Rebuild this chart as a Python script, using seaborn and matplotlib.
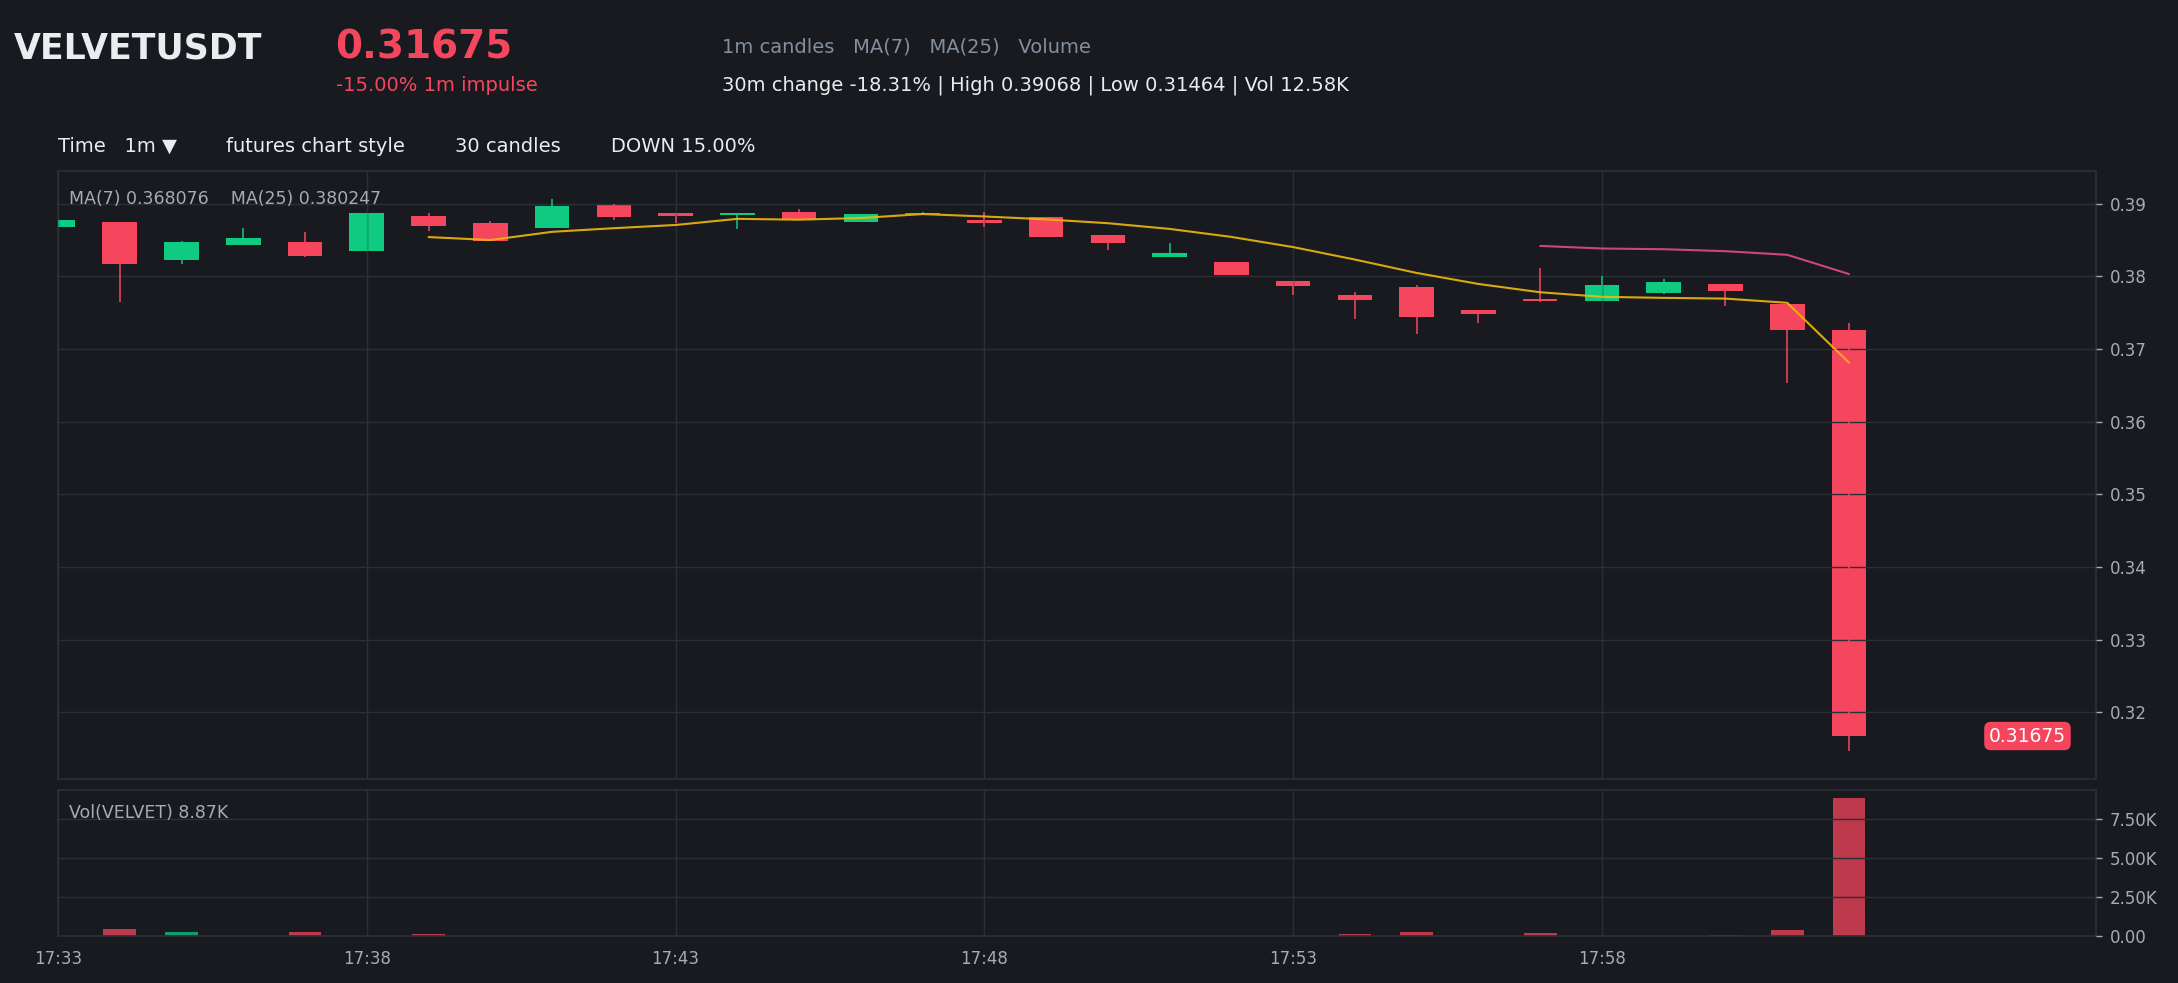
import numpy as np
import pandas as pd
import matplotlib
matplotlib.use('Agg')
import matplotlib.pyplot as plt
import seaborn as sns
from matplotlib.transforms import blended_transform_factory
from matplotlib.ticker import FuncFormatter

# 1m candles, 17:33 .. 18:02
opens = [0.3868, 0.3875, 0.3822, 0.3843, 0.3847, 0.3835, 0.3883, 0.3873, 0.3867, 0.3898,
         0.3887, 0.3884, 0.3889, 0.3875, 0.38855, 0.3878, 0.3881, 0.3857, 0.3827, 0.3819,
         0.3794, 0.3774, 0.3785, 0.3753, 0.3769, 0.3766, 0.3777, 0.3789, 0.3762, 0.37265]
highs = [0.3878, 0.3875, 0.3848, 0.3866, 0.3861, 0.3887, 0.3887, 0.3876, 0.39068, 0.3900,
         0.3887, 0.3887, 0.3892, 0.3885, 0.3888, 0.3888, 0.3881, 0.3857, 0.3846, 0.3819,
         0.3794, 0.3779, 0.3788, 0.3753, 0.3812, 0.3801, 0.3796, 0.3789, 0.3762, 0.3736]
lows = [0.3868, 0.3765, 0.3817, 0.3843, 0.3827, 0.3835, 0.3862, 0.3848, 0.3866, 0.3877,
        0.3873, 0.3865, 0.3879, 0.3875, 0.3885, 0.3868, 0.3854, 0.3836, 0.3827, 0.3802,
        0.3774, 0.3741, 0.3720, 0.3736, 0.3764, 0.3766, 0.3776, 0.3759, 0.3653, 0.31464]
closes = [0.38775, 0.3817, 0.3847, 0.3852, 0.3828, 0.3887, 0.3869, 0.3849, 0.3896, 0.3882,
          0.3883, 0.3887, 0.3879, 0.3885, 0.3887, 0.3873, 0.3854, 0.3846, 0.3832, 0.3802,
          0.3787, 0.3767, 0.3744, 0.3748, 0.3766, 0.3788, 0.3792, 0.3780, 0.37265, 0.31675]
volumes = [20, 450, 270, 20, 270, 30, 130, 10, 10, 10,
           10, 20, 10, 20, 10, 10, 10, 10, 20, 10,
           10, 140, 270, 10, 190, 30, 20, 80, 400, 8870]

tick_pos = [0, 5, 10, 15, 20, 25]
tick_labels = ['17:33', '17:38', '17:43', '17:48', '17:53', '17:58']

BG = '#181a20'
UP = '#0ecb81'
DOWN = '#f6465d'
GRID = '#2b2f36'
TXT = '#eaecef'
MUTED = '#a7abb2'
DIM = '#848e9c'

sns.set_theme(style='dark', rc={'axes.facecolor': BG, 'figure.facecolor': BG})
plt.rcParams['font.family'] = ['DejaVu Sans']

df = pd.DataFrame({'t': np.arange(len(closes)), 'open': opens, 'high': highs,
                   'low': lows, 'close': closes, 'volume': volumes})
df['dir'] = np.where(df['close'] >= df['open'], 'up', 'down')
df['ma7'] = df['close'].rolling(7).mean()
df['ma25'] = df['close'].rolling(25).mean()
cols = df['dir'].map({'up': UP, 'down': DOWN})

fig = plt.figure(figsize=(21.78, 9.83), dpi=100)
ax = fig.add_axes([0.02663, 0.20753, 0.93572, 0.61851])
axv = fig.add_axes([0.02663, 0.04781, 0.93572, 0.14853])

for a in (ax, axv):
    a.set_facecolor(BG)
    a.set_axisbelow(False)
    a.grid(True, color=GRID, lw=1)
    for s in a.spines.values():
        s.set_color(GRID)
        s.set_linewidth(1.2)
    a.yaxis.tick_right()
    a.tick_params(colors=MUTED, labelsize=12, length=4, width=1, pad=6)

# candles
body_bot = np.minimum(df['open'], df['close'])
body_h = np.maximum((df['close'] - df['open']).abs(), 0.00004)
ax.bar(df['t'], body_h, bottom=body_bot, width=0.56, color=cols, linewidth=0, zorder=1)
ax.vlines(df['t'], df['low'], df['high'], colors=cols, lw=1.1, zorder=3)

sns.lineplot(data=df.dropna(subset=['ma7']), x='t', y='ma7', color='#f0b90b',
             lw=1.5, alpha=0.9, ax=ax, zorder=4)
sns.lineplot(data=df.dropna(subset=['ma25']), x='t', y='ma25', color='#e2498a',
             lw=1.5, alpha=0.9, ax=ax, zorder=4)

rng = df['high'].max() - df['low'].min()
ax.set_ylim(df['low'].min() - 0.05 * rng, df['high'].max() + 0.05 * rng)
ax.set_xlim(0, 33)
ax.set_yticks(np.arange(0.32, 0.3905, 0.01))
ax.yaxis.set_major_formatter(FuncFormatter(lambda v, p: f'{v:.2f}'))
ax.set_xticks(tick_pos)
ax.tick_params(axis='x', labelbottom=False)
ax.set_xlabel('')
ax.set_ylabel('')

ax.text(0.0055, 0.9458, 'MA(7) 0.368076    MA(25) 0.380247', transform=ax.transAxes,
        color=MUTED, fontsize=12.5, ha='left', va='baseline')

tr = blended_transform_factory(ax.transAxes, ax.transData)
ax.text(0.9853, df['close'].iloc[-1], f"{df['close'].iloc[-1]:.5f}", transform=tr,
        ha='right', va='center', color='white', fontsize=13.5, zorder=6,
        bbox=dict(boxstyle='round,pad=0.25,rounding_size=0.35', fc=DOWN, ec='none'))

# volume
sns.barplot(data=df, x='t', y='volume', hue='dir', palette={'up': UP, 'down': DOWN},
            native_scale=True, width=0.53, dodge=False, saturation=1, alpha=0.75,
            errorbar=None, legend=False, linewidth=0, edgecolor='none', ax=axv)
axv.set_xlim(0, 33)
axv.set_ylim(0, df['volume'].max() * 1.055)
axv.set_yticks([0, 2500, 5000, 7500])
axv.yaxis.set_major_formatter(FuncFormatter(lambda v, p: '0.00' if v == 0 else f'{v / 1000:.2f}K'))
axv.set_xticks(tick_pos)
axv.set_xticklabels(tick_labels)
axv.set_xlabel('')
axv.set_ylabel('')
axv.text(0.0055, 0.808, 'Vol(VELVET) 8.87K', transform=axv.transAxes,
         color=MUTED, fontsize=12.5, ha='left', va='baseline')

# header
fig.text(14 / 2178, 1 - 58.5 / 983, 'VELVETUSDT', color=TXT, fontsize=25,
         fontweight='bold', va='baseline')
fig.text(335 / 2178, 1 - 58.5 / 983, '0.31675', color=DOWN, fontsize=28,
         fontweight='bold', va='baseline')
fig.text(336 / 2178, 1 - 91 / 983, '-15.00% 1m impulse', color=DOWN, fontsize=14,
         va='baseline')
fig.text(722 / 2178, 1 - 52.7 / 983, '1m candles   MA(7)   MA(25)   Volume', color=DIM,
         fontsize=14, va='baseline')
fig.text(722 / 2178, 1 - 90.7 / 983,
         '30m change -18.31% | High 0.39068 | Low 0.31464 | Vol 12.58K',
         color=TXT, fontsize=14, va='baseline')
for x, s in [(58, 'Time   1m ▼'), (226, 'futures chart style'),
             (455, '30 candles'), (611, 'DOWN 15.00%')]:
    fig.text(x / 2178, 1 - 152 / 983, s, color=TXT, fontsize=14, va='baseline')

fig.savefig('out.png', dpi=100, facecolor=BG)
